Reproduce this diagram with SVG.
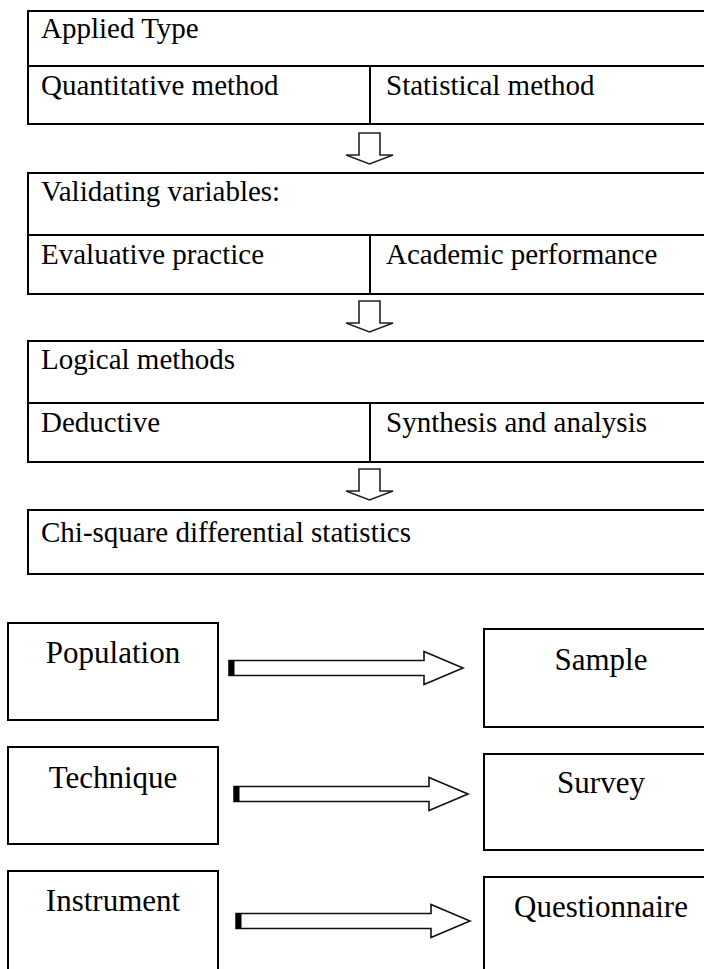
<svg xmlns="http://www.w3.org/2000/svg" width="704" height="969" viewBox="0 0 704 969">
<style>
.ln{fill:none;stroke:#000;stroke-width:2}
.bx{fill:#fff;stroke:#000;stroke-width:2}
.t{font-family:"Liberation Serif","Times New Roman",serif;font-size:29px;fill:#000}
.b{font-family:"Liberation Serif","Times New Roman",serif;font-size:31px;fill:#000;text-anchor:middle}
.da{fill:#fff;stroke:#222;stroke-width:1.6;stroke-linejoin:miter}
.ra{fill:#fff;stroke:#111;stroke-width:1.6;stroke-linejoin:miter}
</style>
<defs>
<path id="down" class="da" d="M-10.5,0 H10.5 V22 H23.5 L0,31 L-23.5,22 H-10.5 Z"/>
<g id="right">
<path class="ra" d="M0,-7.5 H195 V-16.5 L234,0 L195,16.5 V7.5 H0 Z"/>
<rect x="0" y="-7.5" width="5.5" height="15" fill="#000"/>
</g>
</defs>

<g id="table-applied-type">
<rect class="bx" x="28" y="11" width="700" height="113"/>
<line class="ln" x1="28" y1="66" x2="710" y2="66"/>
<line class="ln" x1="370" y1="66" x2="370" y2="124"/>
<text class="t" x="41" y="38">Applied Type</text>
<text class="t" x="41" y="95">Quantitative method</text>
<text class="t" x="386" y="95">Statistical method</text>
</g>

<g id="table-validating-variables">
<rect class="bx" x="28" y="173" width="700" height="121"/>
<line class="ln" x1="28" y1="235" x2="710" y2="235"/>
<line class="ln" x1="370" y1="235" x2="370" y2="294"/>
<text class="t" x="41" y="201">Validating variables:</text>
<text class="t" x="41" y="264">Evaluative practice</text>
<text class="t" x="386" y="264">Academic performance</text>
</g>

<g id="table-logical-methods">
<rect class="bx" x="28" y="341" width="700" height="121"/>
<line class="ln" x1="28" y1="403" x2="710" y2="403"/>
<line class="ln" x1="370" y1="403" x2="370" y2="462"/>
<text class="t" x="41" y="369">Logical methods</text>
<text class="t" x="41" y="432">Deductive</text>
<text class="t" x="386" y="432">Synthesis and analysis</text>
</g>

<g id="box-chi-square">
<rect class="bx" x="28" y="510" width="700" height="64"/>
<text class="t" x="41" y="542">Chi-square differential statistics</text>
</g>

<g id="box-population">
<rect class="bx" x="8" y="623" width="210" height="97"/>
<text class="b" x="113" y="663">Population</text>
</g>
<g id="box-sample">
<rect class="bx" x="484" y="629" width="240" height="98"/>
<text class="b" x="601" y="670">Sample</text>
</g>
<g id="box-technique">
<rect class="bx" x="8" y="747" width="210" height="97"/>
<text class="b" x="113" y="788">Technique</text>
</g>
<g id="box-survey">
<rect class="bx" x="484" y="754" width="240" height="96"/>
<text class="b" x="601" y="793">Survey</text>
</g>
<g id="box-instrument">
<rect class="bx" x="8" y="871" width="210" height="110"/>
<text class="b" x="113" y="911">Instrument</text>
</g>
<g id="box-questionnaire">
<rect class="bx" x="484" y="877" width="240" height="110"/>
<text class="b" x="601" y="917">Questionnaire</text>
</g>

<g id="connectors">
<use href="#down" x="369.5" y="133"/>
<use href="#down" x="369.5" y="301"/>
<use href="#down" x="369.5" y="469"/>
<use href="#right" x="229" y="668"/>
<use href="#right" x="234" y="794"/>
<use href="#right" x="236" y="921"/>
</g>
</svg>
